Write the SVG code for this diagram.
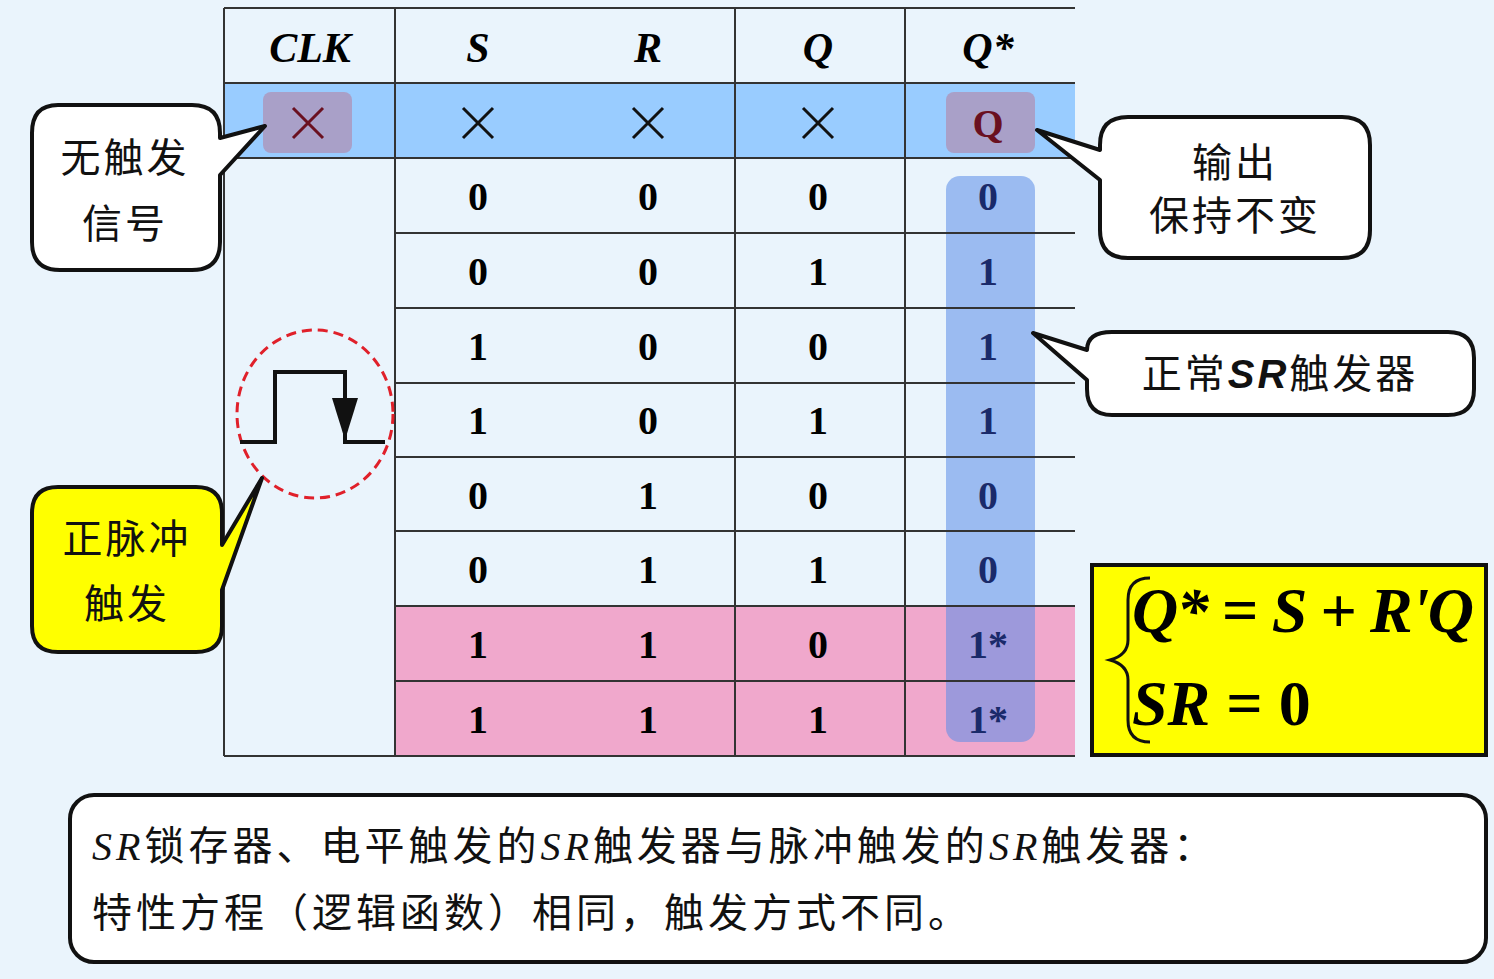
<svg xmlns="http://www.w3.org/2000/svg" width="1494" height="979" viewBox="0 0 1494 979">
<style>
.g{stroke:#333;stroke-width:2;fill:none}
.h{font-family:"Liberation Serif",serif;font-weight:bold;font-style:italic;font-size:42px;text-anchor:middle}
.d{font-family:"Liberation Serif",serif;font-weight:bold;font-size:40px;text-anchor:middle}
.x{stroke:#111;stroke-width:3}
.c{stroke:#111;stroke-width:4;fill:#fff;stroke-linejoin:round}
.cj{font-family:"Noto Sans CJK SC",sans-serif;font-size:40px;text-anchor:middle;fill:#111;letter-spacing:3px}
.m{font-family:"Liberation Serif",serif;font-style:italic;font-size:64px;font-weight:bold}
</style>
<rect width="1494" height="979" fill="#eaf4fc"/>
<g id="table">
<rect x="224" y="83" width="851" height="75" fill="#99ccff"/>
<rect x="395" y="606" width="680" height="150" fill="#f0a8cc"/>
<rect x="263" y="92" width="89" height="61" rx="8" fill="#a9a0c8"/>
<rect x="946" y="92" width="89" height="61" rx="8" fill="#a9a0c8"/>
<rect x="946" y="176" width="89" height="566" rx="14" fill="#5a8ce8" fill-opacity="0.55"/>
<path class="g" d="M224 8H1075M224 83H1075M224 158H1075M395 233H1075M395 308H1075M395 383H1075M395 457H1075M395 531H1075M395 606H1075M395 681H1075M224 756H1075M224 8V756M395 8V756M735 8V756M905 8V756"/>
<text class="h" x="310" y="62">CLK</text><text class="h" x="478" y="62">S</text><text class="h" x="648" y="62">R</text><text class="h" x="818" y="62">Q</text><text class="h" x="988" y="62">Q*</text>
<path class="x" d="M463 108l30 30M493 108l-30 30M633 108l30 30M663 108l-30 30M803 108l30 30M833 108l-30 30"/>
<path d="M293 108l30 30M323 108l-30 30" stroke="#6a1020" stroke-width="3"/>
<text class="d" x="988" y="137" fill="#6a1020">Q</text>
<g class="d">
<text x="478" y="210">0</text><text x="648" y="210">0</text><text x="818" y="210">0</text><text x="988" y="210" fill="#1a2a6a">0</text>
<text x="478" y="285">0</text><text x="648" y="285">0</text><text x="818" y="285">1</text><text x="988" y="285" fill="#1a2a6a">1</text>
<text x="478" y="360">1</text><text x="648" y="360">0</text><text x="818" y="360">0</text><text x="988" y="360" fill="#1a2a6a">1</text>
<text x="478" y="434">1</text><text x="648" y="434">0</text><text x="818" y="434">1</text><text x="988" y="434" fill="#1a2a6a">1</text>
<text x="478" y="509">0</text><text x="648" y="509">1</text><text x="818" y="509">0</text><text x="988" y="509" fill="#1a2a6a">0</text>
<text x="478" y="583">0</text><text x="648" y="583">1</text><text x="818" y="583">1</text><text x="988" y="583" fill="#1a2a6a">0</text>
<text x="478" y="658">1</text><text x="648" y="658">1</text><text x="818" y="658">0</text><text x="988" y="658" fill="#1a2a6a">1*</text>
<text x="478" y="733">1</text><text x="648" y="733">1</text><text x="818" y="733">1</text><text x="988" y="733" fill="#1a2a6a">1*</text>
</g>
</g>
<g id="pulse">
<ellipse cx="315" cy="414" rx="78" ry="84" fill="none" stroke="#e0202a" stroke-width="3" stroke-dasharray="10 6"/>
<polyline points="240,442 275,442 275,372 345,372 345,442 385,442" fill="none" stroke="#111" stroke-width="4"/>
<polygon points="332,398 358,398 345,440" fill="#111"/>
</g>
<g id="callout1">
<path class="c" d="M58 105H192Q220 105 220 133V138L265 126L220 175V242Q220 270 192 270H60Q32 270 32 242V133Q32 105 58 105Z"/>
<text class="cj" x="125" y="172">无触发</text><text class="cj" x="125" y="238">信号</text>
</g>
<g id="callout2">
<path class="c" d="M1128 117H1342Q1370 117 1370 145V230Q1370 258 1342 258H1128Q1100 258 1100 230V180L1037 130L1100 150V145Q1100 117 1128 117Z"/>
<text class="cj" x="1235" y="177">输出</text><text class="cj" x="1235" y="230">保持不变</text>
</g>
<g id="callout3">
<path class="c" d="M1112 332H1448Q1474 332 1474 358V389Q1474 415 1448 415H1112Q1087 415 1087 389V380L1033 333L1087 350Q1087 332 1112 332Z"/>
<text class="cj" x="1280" y="388"><tspan>正常</tspan><tspan font-family="Liberation Sans,sans-serif" font-weight="bold" font-style="italic">SR</tspan><tspan>触发器</tspan></text>
</g>
<g id="callout4">
<path class="c" d="M58 487H196Q222 487 222 513V545L262 478L222 590V626Q222 652 196 652H58Q32 652 32 626V513Q32 487 58 487Z" style="fill:#ffff00"/>
<text class="cj" x="127" y="553">正脉冲</text><text class="cj" x="127" y="618">触发</text>
</g>
<g id="formula">
<rect x="1092" y="565" width="394" height="190" fill="#ffff00" stroke="#111" stroke-width="4"/>
<path d="M1150 578Q1128 578 1128 600V640Q1128 655 1110 660Q1128 665 1128 680V720Q1128 742 1150 742" fill="none" stroke="#111" stroke-width="3"/>
<text class="m" x="1132" y="632" textLength="342">Q*<tspan font-style="normal"> = </tspan>S<tspan font-style="normal"> + </tspan>R'Q</text>
<text class="m" x="1132" y="725">SR<tspan font-style="normal"> = 0</tspan></text>
</g>
<g id="note">
<rect x="70" y="795" width="1416" height="167" rx="24" fill="#fff" stroke="#111" stroke-width="4"/>
<text x="92" y="860" font-family="Noto Sans CJK SC,sans-serif" font-size="40" fill="#111" letter-spacing="4"><tspan font-family="Liberation Serif,serif" font-style="italic">SR</tspan>锁存器、电平触发的<tspan font-family="Liberation Serif,serif" font-style="italic">SR</tspan>触发器与脉冲触发的<tspan font-family="Liberation Serif,serif" font-style="italic">SR</tspan>触发器：</text>
<text x="92" y="927" font-family="Noto Sans CJK SC,sans-serif" font-size="40" fill="#111" letter-spacing="4">特性方程（逻辑函数）相同，触发方式不同。</text>
</g>
</svg>
